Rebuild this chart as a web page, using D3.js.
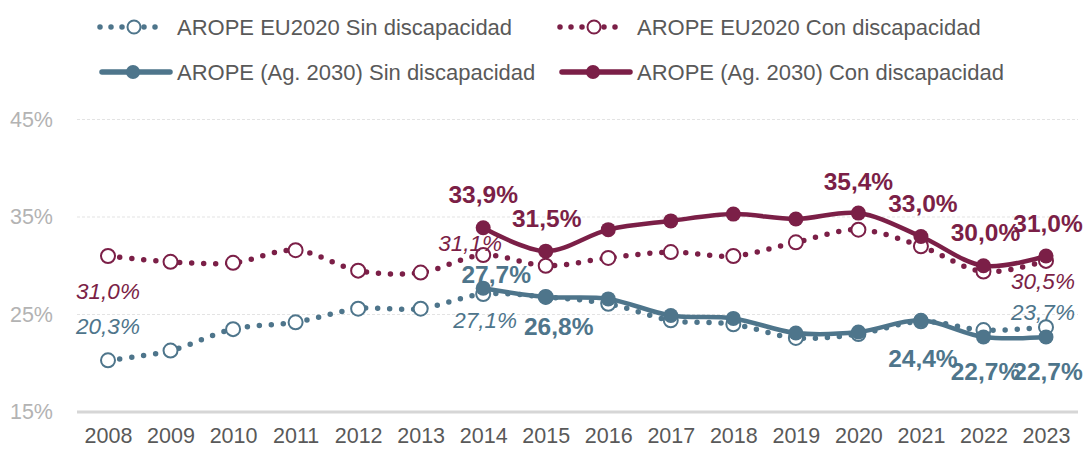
<!DOCTYPE html>
<html>
<head>
<meta charset="utf-8">
<script src="https://cdn.jsdelivr.net/npm/d3@7"></script>
<style>
  html, body { margin: 0; padding: 0; background: #fff; }
  svg { display: block; font-family: "Liberation Sans", Arial, sans-serif; }
</style>
</head>
<body>
<svg id="chart" width="1084" height="452"></svg>
<script>
// ---- Data ----
const years = [2008, 2009, 2010, 2011, 2012, 2013, 2014, 2015, 2016, 2017, 2018, 2019, 2020, 2021, 2022, 2023];
const euSin = [20.3, 21.3, 23.5, 24.2, 25.6, 25.6, 27.1, 26.8, 26.1, 24.4, 24.0, 22.6, 23.0, 24.3, 23.4, 23.7];
const euCon = [31.0, 30.4, 30.3, 31.6, 29.5, 29.3, 31.1, 30.0, 30.8, 31.4, 31.0, 32.4, 33.7, 32.0, 29.4, 30.5];
const agSin = [null, null, null, null, null, null, 27.7, 26.8, 26.6, 24.9, 24.6, 23.1, 23.2, 24.4, 22.7, 22.7];
const agCon = [null, null, null, null, null, null, 33.9, 31.5, 33.7, 34.6, 35.3, 34.8, 35.4, 33.0, 30.0, 31.0];
const yTicks = [15, 25, 35, 45];
const seriesNames = ["AROPE EU2020 Sin discapacidad", "AROPE EU2020 Con discapacidad",
                     "AROPE (Ag. 2030) Sin discapacidad", "AROPE (Ag. 2030) Con discapacidad"];
// labelled points: [series index, year]
const labelled = [
  [1, 2008], [0, 2008], [1, 2014], [0, 2014], [1, 2023], [0, 2023],
  [2, 2014], [2, 2015], [2, 2021], [2, 2022], [2, 2023],
  [3, 2014], [3, 2015], [3, 2020], [3, 2021], [3, 2022], [3, 2023]
];
// label offsets (style, not data)
const labelOffsets = [
  [0, 35], [0, -34], [-13, -12], [2, 26], [-3, 21], [-3, -15],
  [13, -14], [13, 30], [2, 38], [2, 35], [2, 35],
  [0, -33], [1, -33], [0, -32], [2, -33], [2, -33], [2, -33]
];

const BLUE = "#4e758b", RED = "#7b1f47";
const series = [
  { values: euSin, color: BLUE, dotted: true },
  { values: euCon, color: RED, dotted: true },
  { values: agSin, color: BLUE, dotted: false },
  { values: agCon, color: RED, dotted: false }
];

const svg = d3.select("#chart");
const x = d3.scalePoint().domain(years).range([108, 1046]);
const y = d3.scaleLinear().domain([15, 45]).range([412, 119.5]);

// gridlines
svg.append("g").selectAll("line").data(yTicks.filter(t => t !== 15)).join("line")
  .attr("x1", 77).attr("x2", 1078)
  .attr("y1", d => y(d)).attr("y2", d => y(d))
  .attr("stroke", "#e3e3e3").attr("stroke-width", 1).attr("stroke-dasharray", "3 2");

// y axis labels
const yAxis = d3.axisLeft(y).tickValues(yTicks).tickFormat(d => d + "%").tickSize(0).tickPadding(0);
const gy = svg.append("g").attr("transform", "translate(53,0)").call(yAxis);
gy.select(".domain").remove();
gy.selectAll("text").attr("fill", "#b3b3b3").style("font-size", "21.5px")
  .style("font-family", "'Liberation Sans', Arial, sans-serif");

// bottom axis line
svg.append("line").attr("x1", 77).attr("x2", 1078).attr("y1", y(15)).attr("y2", y(15))
  .attr("stroke", "#d6d6d6").attr("stroke-width", 3);

// x axis labels
const xAxis = d3.axisBottom(x).tickSize(0).tickPadding(0).tickFormat(d => String(d));
const gx = svg.append("g").attr("transform", "translate(0,428)").call(xAxis);
gx.select(".domain").remove();
gx.selectAll("text").attr("fill", "#595959").style("font-size", "21.5px")
  .style("font-family", "'Liberation Sans', Arial, sans-serif");

const line = d3.line()
  .defined(d => d.v != null)
  .x(d => x(d.year)).y(d => y(d.v))
  .curve(d3.curveCatmullRom.alpha(0.5));

const pts = s => years.map((yr, i) => ({ year: yr, v: s.values[i] }));

// dotted series first
series.filter(s => s.dotted).forEach(s => {
  svg.append("path").datum(pts(s)).attr("d", line)
    .attr("fill", "none").attr("stroke", s.color).attr("stroke-width", 5.5)
    .attr("stroke-linecap", "round").attr("stroke-dasharray", "0 12");
  svg.append("g").selectAll("circle").data(pts(s).filter(d => d.v != null)).join("circle")
    .attr("cx", d => x(d.year)).attr("cy", d => y(d.v)).attr("r", 7)
    .attr("fill", "#fff").attr("stroke", s.color).attr("stroke-width", 2);
});
series.filter(s => !s.dotted).forEach(s => {
  svg.append("path").datum(pts(s)).attr("d", line)
    .attr("fill", "none").attr("stroke", s.color).attr("stroke-width", 4.5)
    .attr("stroke-linecap", "round");
  svg.append("g").selectAll("circle").data(pts(s).filter(d => d.v != null)).join("circle")
    .attr("cx", d => x(d.year)).attr("cy", d => y(d.v)).attr("r", 7.5)
    .attr("fill", s.color);
});

// data labels
const fmt = v => v.toFixed(1).replace(".", ",") + "%";
svg.append("g").selectAll("text").data(labelled).join("text")
  .attr("x", (d, i) => x(d[1]) + labelOffsets[i][0])
  .attr("y", (d, i) => y(series[d[0]].values[years.indexOf(d[1])]) + labelOffsets[i][1])
  .attr("text-anchor", "middle").attr("dominant-baseline", "central")
  .attr("fill", d => series[d[0]].color)
  .style("font-size", d => series[d[0]].dotted ? "22.5px" : "24.5px")
  .style("font-weight", d => series[d[0]].dotted ? "normal" : "bold")
  .style("font-style", d => series[d[0]].dotted ? "italic" : "normal")
  .text(d => fmt(series[d[0]].values[years.indexOf(d[1])]));

// legend
const legendPos = [[100, 27], [560, 27], [100, 72], [560, 72]];
const lg = svg.append("g");
series.forEach((s, i) => {
  const [lx, ly] = legendPos[i];
  const g = lg.append("g").attr("transform", `translate(${lx},${ly})`);
  if (s.dotted) {
    g.append("line").attr("x1", 0).attr("x2", 66).attr("y1", 0).attr("y2", 0)
      .attr("stroke", s.color).attr("stroke-width", 5.5).attr("stroke-linecap", "round")
      .attr("stroke-dasharray", "0 11");
    g.append("circle").attr("cx", 34).attr("cy", 0).attr("r", 6.5)
      .attr("fill", "#fff").attr("stroke", s.color).attr("stroke-width", 2);
  } else {
    g.append("line").attr("x1", 2).attr("x2", 70).attr("y1", 0).attr("y2", 0)
      .attr("stroke", s.color).attr("stroke-width", 5.5).attr("stroke-linecap", "round");
    g.append("circle").attr("cx", 33).attr("cy", 0).attr("r", 7)
      .attr("fill", s.color);
  }
  g.append("text").attr("x", 77).attr("y", 0).attr("dominant-baseline", "central")
    .attr("fill", "#595959").style("font-size", "22px").text(seriesNames[i]);
});
</script>
</body>
</html>
